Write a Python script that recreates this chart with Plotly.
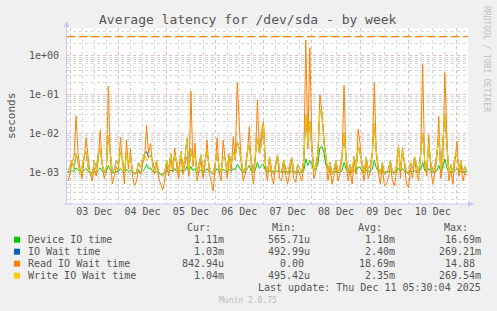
import pandas as pd
import plotly.graph_objects as go

# ---------------- data (milliseconds, hourly averages) ----------------
start_time = "2025-12-02 23:00"
n_points = 199

device_io_ms = [
    1.0, 1.05, 1.1, 1.05, 1.3, 1.15, 1.0, 1.0, 1.1, 1.25, 1.05, 1.0, 0.95, 1.05, 1.0, 1.1, 1.3, 1.05, 1.0, 1.0, 1.5, 1.15, 0.95, 1.0, 1.05,
    1.05, 1.25, 1.1, 1.0, 1.2, 1.05, 1.15, 1.0, 0.95, 0.95, 1.05, 1.0, 1.1, 1.2, 1.6, 1.25, 1.3, 1.05, 1.0, 1.05, 0.95, 0.9, 0.9, 0.95,
    1.1, 1.0, 1.15, 1.05, 1.25, 1.05, 1.0, 1.15, 1.0, 1.1, 1.4, 1.0, 1.4, 1.1, 1.25, 0.95, 1.05, 1.15, 1.0, 1.05, 1.25, 1.05, 1.0, 0.9,
    1.05, 1.25, 1.05, 1.0, 1.2, 1.1, 1.0, 1.2, 1.05, 1.25, 1.15, 1.6, 1.3, 1.1, 1.0, 1.0, 1.25, 1.5, 1.05, 1.0, 1.15, 1.8, 1.25, 1.5,
    1.6, 1.1, 1.0, 1.1, 1.05, 1.0, 1.05, 1.1, 1.05, 1.0, 1.05, 1.05, 1.0, 1.05, 1.1, 1.0, 1.0, 1.05, 1.0, 1.0, 1.1, 2.2, 1.5, 2.0,
    1.6, 1.1, 1.2, 1.6, 4.3, 4.6, 3.3, 1.5, 1.1, 1.1, 1.0, 1.0, 1.05, 1.0, 1.0, 1.1, 1.8, 1.2, 1.0, 1.05, 1.0, 1.1, 1.05, 1.4,
    1.3, 1.05, 1.0, 1.1, 1.05, 1.05, 1.2, 2.0, 1.3, 1.05, 1.0, 1.05, 1.0, 1.0, 1.05, 1.05, 1.0, 1.0, 1.05, 1.3, 1.05, 1.25, 1.05, 1.0,
    1.0, 1.05, 1.05, 1.1, 1.05, 1.0, 1.15, 1.8, 1.1, 1.05, 1.25, 1.05, 1.0, 1.05, 1.1, 1.5, 1.05, 1.3, 2.2, 1.3, 1.0, 1.05, 1.0, 1.1,
    1.25, 1.05, 1.05, 1.0, 1.05, 1.11,
]

io_wait_ms = [
    1.0, 1.5, 2.0, 1.2, 3.0, 1.8, 0.9, 1.4, 2.5, 3.5, 1.3, 1.0, 0.8, 2.0, 1.2, 3.0, 4.0, 1.6, 1.0, 1.3, 9.0, 3.2, 1.0, 1.2, 2.0,
    1.5, 3.5, 2.2, 1.0, 3.0, 1.6, 2.5, 1.1, 0.9, 1.0, 1.8, 1.3, 2.2, 3.0, 3.4, 2.4, 2.8, 1.7, 1.2, 2.0, 1.0, 0.9, 0.8, 1.0,
    2.0, 1.2, 3.0, 1.4, 2.8, 1.8, 1.0, 3.5, 1.3, 2.2, 7.4, 1.1, 4.0, 2.0, 3.0, 1.0, 1.6, 2.8, 1.1, 2.0, 3.5, 1.5, 1.0, 0.9,
    1.8, 3.0, 1.4, 1.0, 2.6, 2.2, 1.1, 3.0, 1.6, 3.2, 2.5, 6.0, 4.0, 2.0, 1.0, 1.3, 3.5, 5.0, 1.8, 1.0, 3.0, 8.0, 3.0, 5.5,
    16, 1.5, 1.0, 2.5, 1.2, 0.9, 1.6, 2.8, 1.1, 1.0, 2.0, 1.3, 0.9, 1.5, 2.4, 1.1, 0.9, 1.6, 1.2, 1.0, 2.0, 30, 6.0, 20,
    4.0, 1.2, 1.6, 3.0, 40, 30, 6.0, 2.5, 1.0, 1.8, 0.9, 1.2, 2.0, 1.0, 1.4, 2.8, 10, 2.4, 1.0, 1.6, 1.0, 2.6, 1.3, 5.0,
    3.0, 1.6, 1.0, 2.4, 1.2, 1.5, 3.0, 18, 3.5, 1.3, 0.9, 1.8, 0.9, 1.0, 1.2, 2.0, 1.0, 0.9, 1.5, 4.5, 1.2, 3.5, 1.8, 1.0,
    0.9, 1.8, 1.2, 2.5, 1.5, 1.0, 3.0, 10, 2.0, 1.2, 5.0, 1.8, 1.0, 1.4, 2.8, 8.0, 1.2, 8.0, 30, 5.0, 1.0, 1.6, 1.0, 2.5,
    3.0, 1.2, 2.0, 1.0, 1.4, 1.03,
]

read_wait_ms = [
    0.6, 0.9, 1.8, 2.5, 28, 3.0, 1.2, 0.7, 2.2, 7.6, 2.4, 0.9, 0.6, 1.3, 0.8, 2.0, 12, 1.5, 0.7, 1.0, 163, 2.5, 0.5, 0.8, 1.4,
    1.1, 7.9, 2.0, 0.5, 6.7, 1.2, 4.0, 0.8, 0.45, 0.6, 1.2, 0.9, 1.6, 2.4, 16, 3.0, 5.6, 1.4, 0.9, 1.8, 0.7, 0.5, 0.35, 0.6,
    1.5, 0.8, 2.2, 1.0, 4.2, 1.3, 0.7, 2.8, 0.9, 1.6, 2.5, 0.8, 120, 1.4, 5.6, 0.6, 1.1, 2.0, 0.7, 1.5, 6.7, 1.0, 0.6, 0.33,
    1.2, 7.6, 1.0, 0.6, 6.7, 1.8, 0.7, 2.3, 1.1, 8.2, 2.0, 200, 13, 1.5, 0.6, 0.9, 3.0, 15, 1.2, 0.5, 2.2, 71, 3.5, 11,
    20, 1.2, 0.6, 2.3, 0.8, 0.5, 1.4, 2.3, 0.7, 0.6, 1.6, 0.9, 0.5, 1.0, 2.0, 0.7, 0.55, 1.2, 0.8, 0.6, 1.5, 2460, 4.0, 1560,
    7.0, 0.7, 1.0, 2.5, 96, 36, 8.0, 2.0, 0.6, 1.3, 0.5, 0.8, 1.5, 0.6, 0.9, 2.2, 170, 1.8, 0.6, 1.2, 0.5, 2.0, 0.9, 12.8,
    5.0, 1.2, 0.6, 1.8, 0.7, 1.0, 2.8, 200, 3.0, 0.9, 0.5, 1.4, 0.45, 0.5, 0.7, 1.5, 0.6, 0.45, 1.0, 4.8, 0.7, 4.3, 1.2, 0.5,
    0.4, 1.3, 0.7, 2.0, 1.0, 0.6, 2.5, 590, 1.5, 0.8, 9.0, 1.2, 0.5, 0.9, 2.0, 27, 0.7, 1.5, 360, 9.0, 0.6, 1.1, 0.5, 1.8,
    6.3, 0.8, 1.5, 0.6, 1.0, 0.84,
]

write_wait_ms = [
    1.0, 1.5, 2.0, 1.2, 3.0, 1.8, 0.9, 1.4, 2.5, 3.5, 1.3, 1.0, 0.8, 2.0, 1.2, 3.0, 4.0, 1.6, 1.0, 1.3, 9.0, 3.2, 1.0, 1.2, 2.0,
    1.5, 3.5, 2.2, 1.0, 3.0, 1.6, 2.5, 1.1, 0.9, 1.0, 1.8, 1.3, 2.2, 3.0, 2.0, 2.4, 2.8, 1.7, 1.2, 2.0, 1.0, 0.9, 0.8, 1.0,
    2.0, 1.2, 3.0, 1.4, 2.8, 1.8, 1.0, 3.5, 1.3, 2.2, 7.4, 1.1, 4.0, 2.0, 3.0, 1.0, 1.6, 2.8, 1.1, 2.0, 3.5, 1.5, 1.0, 0.9,
    1.8, 3.0, 1.4, 1.0, 2.6, 2.2, 1.1, 3.0, 1.6, 3.2, 2.5, 6.0, 4.0, 2.0, 1.0, 1.3, 3.5, 5.0, 1.8, 1.0, 3.0, 8.0, 3.0, 5.5,
    16, 1.5, 1.0, 2.5, 1.2, 0.9, 1.6, 2.8, 1.1, 1.0, 2.0, 1.3, 0.9, 1.5, 2.4, 1.1, 0.9, 1.6, 1.2, 1.0, 2.0, 30, 6.0, 20,
    4.0, 1.2, 1.6, 3.0, 40, 30, 6.0, 2.5, 1.0, 1.8, 0.9, 1.2, 2.0, 1.0, 1.4, 2.8, 10, 2.4, 1.0, 1.6, 1.0, 2.6, 1.3, 5.0,
    3.0, 1.6, 1.0, 2.4, 1.2, 1.5, 3.0, 18, 3.5, 1.3, 0.9, 1.8, 0.9, 1.0, 1.2, 2.0, 1.0, 0.9, 1.5, 4.5, 1.2, 3.5, 1.8, 1.0,
    0.9, 1.8, 1.2, 2.5, 1.5, 1.0, 3.0, 10, 2.0, 1.2, 5.0, 1.8, 1.0, 1.4, 2.8, 8.0, 1.2, 8.0, 30, 5.0, 1.0, 1.6, 1.0, 2.5,
    3.0, 1.2, 2.0, 1.0, 1.4, 1.04,
]

warn_level = 3.0  # seconds (dashed rule)

series_names = ["Device IO time", "IO Wait time", "Read IO Wait time", "Write IO Wait time"]
series_colors = ["#00CC00", "#0066B3", "#FF8000", "#FFCC00"]
cur_vals = ["1.11m", "1.03m", "842.94u", "1.04m"]
min_vals = ["565.71u", "492.99u", "0.00\u00a0", "495.42u"]
avg_vals = ["1.18m", "2.40m", "18.69m", "2.35m"]
max_vals = ["16.69m", "269.21m", "14.88\u00a0", "269.54m"]

y_tick_vals = [1e-3, 1e-2, 1e-1, 1e0]
y_tick_text = ["1e-03", "1e-02", "1e-01", "1e+00"]

x_start = "2025-12-02 22:30"
x_end = "2025-12-11 05:30"

# ---------------- figure ----------------
times = pd.date_range(start_time, periods=n_points, freq="h")
series_ms = [device_io_ms, io_wait_ms, read_wait_ms, write_wait_ms]

W, H = 497, 311
PL, PR, PT, PB = 67, 468, 28, 204   # plot area in pixels


def px(x):
    return (x - PL) / (PR - PL)


def py(y):
    return (PB - y) / (PB - PT)


fig = go.Figure()
for name, vals, col in zip(series_names, series_ms, series_colors):
    fig.add_trace(go.Scatter(
        x=times, y=[v / 1000.0 for v in vals], mode="lines", name=name,
        line=dict(color=col, width=1), hoverinfo="skip", showlegend=False))

fig.add_trace(go.Scatter(
    x=[pd.Timestamp(x_start), pd.Timestamp(x_end)], y=[warn_level, warn_level],
    mode="lines", line=dict(color="#FF8000", width=1.2, dash="8px,4px"),
    hoverinfo="skip", showlegend=False))

mono = "DejaVu Sans Mono"
txt = "#555555"

minor_y = [m * 10.0 ** e for e in range(-4, 1) for m in range(2, 10)]

fig.update_layout(
    width=W, height=H,
    margin=dict(l=PL, r=W - PR, t=PT, b=H - PB, pad=0),
    paper_bgcolor="#F0F0F0", plot_bgcolor="#FFFFFF",
    font=dict(family=mono, size=10, color=txt),
    xaxis=dict(
        type="date", range=[x_start, x_end],
        tick0="2025-12-03", dtick=86400000, ticklabelmode="period",
        tickformat="%d %b", showgrid=True, gridcolor="#EBB8B8", griddash="dot", gridwidth=1,
        ticks="", showline=False, zeroline=False,
        tickfont=dict(family=mono, size=10, color=txt),
        minor=dict(dtick=6 * 3600 * 1000, showgrid=True, gridcolor="#D8D8D8", griddash="dot", gridwidth=1),
    ),
    yaxis=dict(
        type="log", range=[-3.813, 0.700],
        tickvals=y_tick_vals, ticktext=y_tick_text,
        showgrid=True, gridcolor="#EBB8B8", griddash="dot", gridwidth=1,
        ticks="", showline=False, zeroline=False, ticklabelstandoff=7,
        tickfont=dict(family=mono, size=10, color=txt),
        minor=dict(tickvals=minor_y, showgrid=True, gridcolor="#D8D8D8", griddash="dot", gridwidth=1),
    ),
)

shapes = []
axis_col = "#C8C8F0"
# axis lines
shapes.append(dict(type="line", xref="paper", yref="paper", x0=px(PL - 0.5), x1=px(PL - 0.5),
                   y0=py(PB), y1=py(23), line=dict(color=axis_col, width=1)))
shapes.append(dict(type="line", xref="paper", yref="paper", x0=px(PL - 3), x1=px(471),
                   y0=py(PB), y1=py(PB), line=dict(color=axis_col, width=1)))
# arrow heads
shapes.append(dict(type="path", xref="paper", yref="paper",
                   path=f"M {px(PL-3.5)} {py(27)} L {px(PL+2.5)} {py(27)} L {px(PL-0.5)} {py(21)} Z",
                   fillcolor=axis_col, line=dict(width=0)))
shapes.append(dict(type="path", xref="paper", yref="paper",
                   path=f"M {px(468)} {py(PB-3)} L {px(468)} {py(PB+3)} L {px(474)} {py(PB)} Z",
                   fillcolor=axis_col, line=dict(width=0)))

annotations = []


def ann(x, y, text, xanchor="left", size=10, color=txt, angle=0):
    annotations.append(dict(x=px(x), y=py(y), xref="paper", yref="paper", text=text,
                            showarrow=False, xanchor=xanchor, yanchor="middle", textangle=angle,
                            font=dict(family=mono, size=size, color=color)))


ann(248, 19, "Average latency for /dev/sda - by week", xanchor="center", size=13)
ann(11, 116, "seconds", xanchor="center", size=11, angle=-90)
ann(487, 59, "RRDTOOL / TOBI OETIKER", xanchor="center", size=8, color="#C0C0C0", angle=90)

header_y = 227.3
col_right = [226, 312, 397, 483]
headers = ["Cur:", "Min:", "Avg:", "Max:"]
header_right = [213, 298, 384, 470]
for h, xr in zip(headers, header_right):
    ann(xr, header_y, h, xanchor="right")

row_y = [239.7, 251.7, 263.7, 275.7]
cols = [cur_vals, min_vals, avg_vals, max_vals]
for i, (name, col) in enumerate(zip(series_names, series_colors)):
    y = row_y[i]
    shapes.append(dict(type="rect", xref="paper", yref="paper",
                       x0=px(14), x1=px(20), y0=py(y + 3), y1=py(y - 3),
                       fillcolor=col, line=dict(width=0)))
    ann(26, y, name)
    for vals, xr in zip(cols, col_right):
        ann(xr, y, vals[i], xanchor="right")

ann(483, 287.7, "Last update: Thu Dec 11 05:30:04 2025", xanchor="right")
ann(248, 300, "Munin 2.0.75", xanchor="center", size=8, color="#BBBBBB")

fig.update_layout(shapes=shapes, annotations=annotations)
fig.write_html("out.html")
